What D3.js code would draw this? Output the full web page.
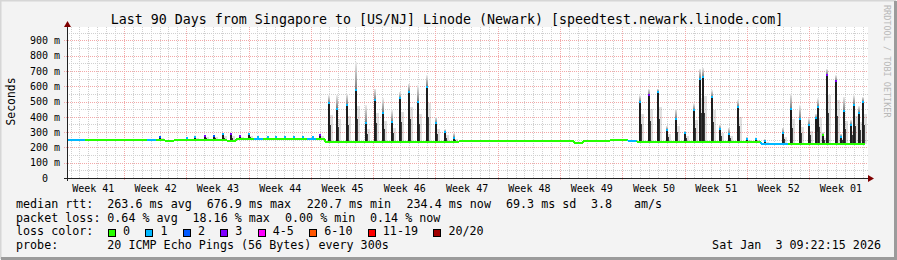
<!DOCTYPE html>
<html>
<head>
<meta charset="utf-8">
<script src="https://cdn.jsdelivr.net/npm/d3@7"></script>
<style>
  body { margin: 0; background: #f3f3f3; }
  svg text { font-family: "DejaVu Sans Mono", monospace; white-space: pre; }
</style>
</head>
<body>
<svg id="chart"></svg>
<script>
// loss legend
const lossLabels = ['0', '1', '2', '3', '4-5', '6-10', '11-19', '20/20']
const lossColors = ['#26ff00', '#00b8ff', '#0059ff', '#7e00ff', '#ff00ff', '#ff5500', '#ff0000', '#a10000']

// axis labels
const weekLabels = ['Week 41', 'Week 42', 'Week 43', 'Week 44', 'Week 45', 'Week 46', 'Week 47',
  'Week 48', 'Week 49', 'Week 50', 'Week 51', 'Week 52', 'Week 01']
const firstWeekStart = -0.6   // days from left edge of graph
const yTicks = [0, 100, 200, 300, 400, 500, 600, 700, 800, 900]

// daily median baseline (ms) and loss colour index, day 0 .. 89
const baseMedian = [
  248, 248, 248, 248, 248, 248, 248, 248, 248, 248,
  248, 240, 248, 248, 248, 248, 248, 248, 245, 252,
  252, 252, 252, 252, 252, 252, 252, 252, 252, 235,
  235, 235, 235, 235, 235, 235, 235, 235, 235, 235,
  235, 235, 235, 235, 243, 243, 243, 243, 243, 243,
  243, 243, 243, 243, 243, 243, 243, 232, 243, 243,
  243, 250, 250, 245, 237, 237, 237, 237, 237, 237,
  237, 237, 237, 237, 237, 237, 237, 236, 222, 222,
  222, 225, 225, 225, 225, 225, 225, 225, 225, 225
]
const baseLoss = [
  1, 1, 0, 0, 0, 0, 0, 0, 0, 1,
  0, 0, 0, 0, 0, 0, 0, 0, 0, 0,
  0, 1, 0, 0, 0, 0, 0, 1, 0, 0,
  0, 0, 0, 0, 0, 0, 0, 0, 0, 0,
  0, 0, 0, 0, 0, 0, 0, 0, 0, 0,
  0, 0, 0, 0, 0, 0, 0, 0, 0, 0,
  0, 0, 0, 1, 0, 0, 0, 0, 0, 0,
  0, 0, 0, 0, 0, 0, 0, 0, 1, 1,
  1, 0, 0, 0, 0, 0, 0, 0, 0, 0
]
const dataEnd = 89.7

// evening peaks: time (days), peak median (ms), top of smoke (ms), loss index at peak
const spikeDay = [
  10.37, 13.34, 14.30, 15.39, 16.44, 17.38, 18.31, 19.33, 20.37, 21.31, 22.44, 23.37, 24.38, 25.42, 26.38, 27.49, 28.35,
  29.29, 30.22, 31.35, 32.36, 33.48, 34.49, 35.39, 36.40, 37.30, 38.31, 39.33, 40.34, 41.35, 42.36, 43.37,
  64.27, 65.31, 66.33, 67.30, 68.31, 69.33, 70.37, 71.01, 71.35, 72.36, 73.29, 74.30, 75.31, 76.29, 77.30, 78.31,
  80.30, 81.24, 82.25, 83.29, 84.04, 84.30, 84.86, 85.25, 86.29, 86.85, 87.22, 87.98, 88.28, 88.91, 89.29
]
const spikePeak = [
  265, 259, 270, 274, 276, 285, 285, 274, 287, 270, 270, 270, 270, 270, 265, 265, 280,
  487, 454, 476, 574, 357, 509, 428, 367, 520, 563, 498, 595, 357, 298, 263,
  498, 541, 563, 313, 385, 291, 443, 650, 661, 530, 319, 287, 465, 254, 252, 241,
  291, 450, 383, 345, 389, 465, 280, 676, 632, 270, 437, 345, 480, 422, 498
]
const spikeSmoke = [
  272, 265, 278, 282, 284, 292, 292, 282, 295, 278, 276, 276, 276, 276, 272, 272, 290,
  541, 541, 552, 756, 476, 585, 520, 443, 563, 617, 606, 672, 400, 320, 295,
  541, 585, 585, 340, 454, 310, 487, 715, 720, 574, 350, 330, 509, 270, 265, 255,
  330, 552, 476, 390, 420, 520, 300, 715, 672, 290, 530, 380, 540, 470, 530
]
const spikeLoss = [
  2, 1, 1, 3, 2, 1, 3, 3, 1, 1, 1, 1, 1, 1, 1, 1, 3,
  1, 1, 1, 1, 1, 1, 1, 1, 1, 1, 1, 1, 1, 1, 1,
  1, 3, 1, 1, 1, 1, 1, 1, 1, 1, 1, 1, 1, 1, 1, 1,
  1, 1, 1, 1, 1, 1, 0, 3, 3, 1, 1, 1, 1, 1, 1
]

// legend texts
const titleText = 'Last 90 Days from Singapore to [US/NJ] Linode (Newark) [speedtest.newark.linode.com]'
const rttStats = ['263.6 ms avg', '676.9 ms max', '220.7 ms min', '234.4 ms now', '69.3 ms sd', '3.8', 'am/s']
const lossStats = ['0.64 % avg', '18.16 % max', '0.00 % min', '0.14 % now']
const probeText = '20 ICMP Echo Pings (56 Bytes) every 300s'
const stampText = 'Sat Jan  3 09:22:15 2026'

// svg size
const svgWidth = 897
const svgHeight = 260
const charW = 7.04

const svg = d3.select('#chart')
  .attr('width', svgWidth)
  .attr('height', svgHeight)

// frame
svg.append('rect').attr('width', svgWidth).attr('height', svgHeight).attr('fill', '#f3f3f3')
svg.append('path').attr('d', 'M0.5,259V0.5H896').attr('fill', 'none').attr('stroke', '#d6d6d6').attr('stroke-width', 2)
svg.append('path').attr('d', 'M1,258.5H895.5V1').attr('fill', 'none').attr('stroke', '#9b9b9b').attr('stroke-width', 3)

// scales
const xScale = d3.scaleLinear().domain([0, 90]).range([67, 868])
const yScale = d3.scaleLinear().domain([0, 987]).range([178, 27])
const px = v => Math.round(v) + 0.5

// canvas
svg.append('rect')
  .attr('x', 67).attr('y', 27)
  .attr('width', 801).attr('height', 151)
  .attr('fill', '#ffffff')

// grid
const grid = svg.append('g').attr('shape-rendering', 'crispEdges')
const weekStarts = d3.range(firstWeekStart + 7, 90, 7)
const dayLines = d3.range(firstWeekStart + 1, 90, 1).filter(d => !weekStarts.some(w => Math.abs(w - d) < 0.01))
const minorY = d3.range(50, 987, 100)
const majorY = yTicks.filter(v => v > 0)

grid.selectAll('.vmin').data(dayLines).enter().append('line')
  .attr('x1', d => px(xScale(d))).attr('x2', d => px(xScale(d)))
  .attr('y1', 27).attr('y2', 178)
  .attr('stroke', '#d0d0d0').attr('stroke-dasharray', '1,1')
grid.selectAll('.hmin').data(minorY).enter().append('line')
  .attr('x1', 67).attr('x2', 868)
  .attr('y1', d => px(yScale(d))).attr('y2', d => px(yScale(d)))
  .attr('stroke', '#d0d0d0').attr('stroke-dasharray', '1,1')
grid.selectAll('.vmaj').data(weekStarts).enter().append('line')
  .attr('x1', d => px(xScale(d))).attr('x2', d => px(xScale(d)))
  .attr('y1', 27).attr('y2', 181)
  .attr('stroke', '#f3a8a8').attr('stroke-dasharray', '1,1')
grid.selectAll('.hmaj').data(majorY).enter().append('line')
  .attr('x1', 64).attr('x2', 868)
  .attr('y1', d => px(yScale(d))).attr('y2', d => px(yScale(d)))
  .attr('stroke', '#f3a8a8').attr('stroke-dasharray', '1,1')

// smoke gradient
const defs = svg.append('defs')
const grad = defs.append('linearGradient').attr('id', 'smoke')
  .attr('x1', 0).attr('y1', 1).attr('x2', 0).attr('y2', 0)
grad.append('stop').attr('offset', '0%').attr('stop-color', '#777')
grad.append('stop').attr('offset', '100%').attr('stop-color', '#ececec')

const spikes = spikeDay.map((d, i) => ({
  day: d,
  peak: spikePeak[i],
  smoke: spikeSmoke[i],
  loss: spikeLoss[i],
  base: baseMedian[Math.floor(d)]
}))

const marks = svg.append('g').attr('shape-rendering', 'crispEdges')

// smoke above peaks
marks.selectAll('.smoke').data(spikes).enter().append('rect')
  .attr('x', d => Math.round(xScale(d.day)))
  .attr('width', 2)
  .attr('y', d => yScale(d.smoke))
  .attr('height', d => Math.max(0, yScale(d.peak) - yScale(d.smoke)))
  .attr('fill', 'url(#smoke)')

// light shadow to the right of each peak
marks.selectAll('.shade').data(spikes).enter().append('rect')
  .attr('x', d => Math.round(xScale(d.day)) + 2)
  .attr('width', 3)
  .attr('y', d => yScale(d.base + (d.peak - d.base) * 0.7))
  .attr('height', d => yScale(d.base) - yScale(d.base + (d.peak - d.base) * 0.7))
  .attr('fill', '#000').attr('opacity', 0.12)

// dark body of each peak
marks.selectAll('.bar').data(spikes).enter().append('rect')
  .attr('x', d => Math.round(xScale(d.day)))
  .attr('width', 2)
  .attr('y', d => yScale(d.peak))
  .attr('height', d => yScale(d.base) - yScale(d.peak))
  .attr('fill', '#1e1e1e')
marks.selectAll('.tail').data(spikes).enter().append('rect')
  .attr('x', d => Math.round(xScale(d.day)) + 2)
  .attr('width', 1)
  .attr('y', d => yScale(d.base + (d.peak - d.base) * 0.45))
  .attr('height', d => yScale(d.base) - yScale(d.base + (d.peak - d.base) * 0.45))
  .attr('fill', '#3a3a3a')

// median line coloured by loss
const days = d3.range(baseMedian.length)
marks.selectAll('.med').data(days).enter().append('line')
  .attr('x1', d => xScale(d))
  .attr('x2', d => xScale(Math.min(d + 1, dataEnd)))
  .attr('y1', d => yScale(baseMedian[d]))
  .attr('y2', d => yScale(baseMedian[d]))
  .attr('stroke', d => lossColors[baseLoss[d]])
  .attr('stroke-width', 2)
marks.selectAll('.step').data(days.slice(1)).enter().append('line')
  .attr('x1', d => xScale(d)).attr('x2', d => xScale(d))
  .attr('y1', d => yScale(baseMedian[d - 1]))
  .attr('y2', d => yScale(baseMedian[d]))
  .attr('stroke', d => lossColors[baseLoss[d]])
  .attr('stroke-width', 2)

// median dots at peaks
marks.selectAll('.dot').data(spikes).enter().append('rect')
  .attr('x', d => Math.round(xScale(d.day)))
  .attr('width', 2)
  .attr('y', d => yScale(d.peak) - 1)
  .attr('height', 2)
  .attr('fill', d => lossColors[d.loss])

// axes lines
svg.append('line').attr('x1', 64).attr('x2', 869).attr('y1', 178.5).attr('y2', 178.5)
  .attr('stroke', '#222').attr('shape-rendering', 'crispEdges')
svg.append('line').attr('x1', 67.5).attr('x2', 67.5).attr('y1', 181).attr('y2', 26)
  .attr('stroke', '#222').attr('shape-rendering', 'crispEdges')
svg.append('path').attr('d', 'M64,27L67.5,21L71,27Z').attr('fill', '#7f0000')
svg.append('path').attr('d', 'M868,175L874,178.5L868,182Z').attr('fill', '#7f0000')

// y axis labels
const yAxis = d3.axisLeft(yScale)
  .tickValues(yTicks)
  .tickSize(0)
  .tickPadding(7)
  .tickFormat(d => d === 0 ? '0  ' : d + ' m')
svg.append('g').attr('transform', 'translate(67,0)').call(yAxis)
  .call(g => g.select('.domain').remove())
  .selectAll('text')
  .attr('font-family', 'DejaVu Sans Mono').attr('font-size', 10).attr('fill', '#000')
  .attr('xml:space', 'preserve')

// x axis labels, centred in each week
const weekCenters = weekLabels.map((w, i) => firstWeekStart + i * 7 + 3.5)
const xAxis = d3.axisBottom(xScale)
  .tickValues(weekCenters)
  .tickSize(0)
  .tickPadding(6.4)
  .tickFormat((d, i) => weekLabels[i])
svg.append('g').attr('transform', 'translate(0,178)').call(xAxis)
  .call(g => g.select('.domain').remove())
  .selectAll('text')
  .attr('font-family', 'DejaVu Sans Mono').attr('font-size', 10).attr('fill', '#000')

// title and side labels
svg.append('text').attr('x', 447).attr('y', 23.5).attr('text-anchor', 'middle')
  .attr('font-size', 13.3).attr('fill', '#000').text(titleText)
svg.append('text').attr('transform', 'translate(15,101.5) rotate(-90)').attr('text-anchor', 'middle')
  .attr('font-size', 11.4).attr('fill', '#000').text('Seconds')
svg.append('text').attr('transform', 'translate(884,5) rotate(90)')
  .attr('font-size', 8.5).attr('fill', '#b8b8b8').text('RRDTOOL / TOBI OETIKER')

// legend
const legend = svg.append('g').attr('font-size', 11.7).attr('fill', '#000')
const rttX = [107.3, 206.7, 306.7, 406.5, 506, 591, 634]
const lossX = [107.3, 192.5, 285, 370]
legend.append('text').attr('x', 16).attr('y', 208).text('median rtt:')
legend.selectAll('.rtt').data(rttStats).enter().append('text')
  .attr('x', (d, i) => rttX[i]).attr('y', 208).text(d => d)
legend.append('text').attr('x', 16).attr('y', 221.5).text('packet loss:')
legend.selectAll('.pl').data(lossStats).enter().append('text')
  .attr('x', (d, i) => lossX[i]).attr('y', 221.5).text(d => d)
legend.append('text').attr('x', 16).attr('y', 235).text('loss color:')

let lx = 108
lossLabels.forEach((lab, i) => {
  legend.append('rect').attr('x', lx + 0.5).attr('y', 229.5).attr('width', 7).attr('height', 7)
    .attr('fill', lossColors[i]).attr('stroke', '#000').attr('shape-rendering', 'crispEdges')
  legend.append('text').attr('x', lx + 15).attr('y', 235).text(lab)
  lx += 15 + lab.length * charW + 15.4
})

legend.append('text').attr('x', 16).attr('y', 248.5).text('probe:')
legend.append('text').attr('x', 107.3).attr('y', 248.5).text(probeText)
legend.append('text').attr('x', 881).attr('y', 248.5).attr('text-anchor', 'end').text(stampText)
</script>
</body>
</html>
